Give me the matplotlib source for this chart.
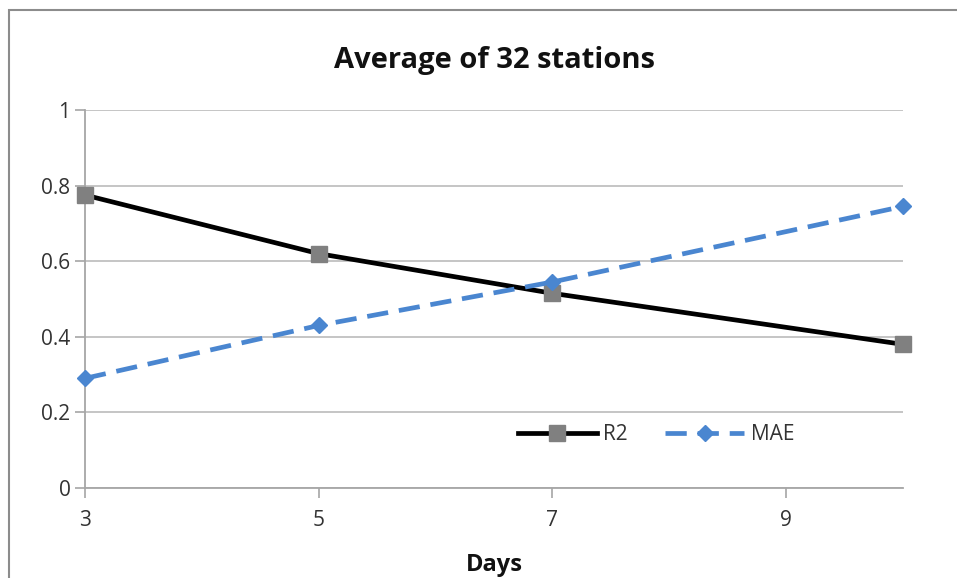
import matplotlib.pyplot as plt
from matplotlib.patches import Rectangle

plt.rcParams['font.family'] = ['Open Sans', 'DejaVu Sans']

days = [3, 5, 7, 10]
r2 = [0.775, 0.62, 0.515, 0.38]
mae = [0.29, 0.43, 0.545, 0.745]
xticks = [3, 5, 7, 9]
yticks = [0, 0.2, 0.4, 0.6, 0.8, 1]
ytick_labels = ['0', '0.2', '0.4', '0.6', '0.8', '1']

fig = plt.figure(figsize=(9.57, 5.78), dpi=100)
ax = fig.add_axes([0.0888, 0.1557, 0.8548, 0.654])

# outer chart border like the spreadsheet frame
fig.patches.append(Rectangle((0.009, -0.02), 0.995, 1.003, transform=fig.transFigure,
                             fill=False, edgecolor='#8c8c8c', linewidth=1.5))

ax.plot(days, r2, color='black', linewidth=3.4, marker='s', markersize=11,
        markerfacecolor='#808080', markeredgecolor='#808080', label='R2', zorder=3, clip_on=False)
ax.plot(days, mae, color='#4a86d0', linewidth=3.4, linestyle=(0, (4.5, 2.3)), marker='D',
        markersize=8, markerfacecolor='#4a86d0', markeredgecolor='#4a86d0', label='MAE',
        zorder=3, clip_on=False)

ax.set_xlim(3, 10)
ax.set_ylim(0, 1)
ax.set_xticks(xticks)
ax.set_yticks(yticks)
ax.set_yticklabels(ytick_labels)
ax.grid(axis='y', color='#c0c0c0', linewidth=1.3)
ax.set_axisbelow(True)

for s in ['top', 'right']:
    ax.spines[s].set_visible(False)
ax.spines['left'].set_color('#a6a6a6')
ax.spines['bottom'].set_color('#a6a6a6')
ax.spines['left'].set_linewidth(1.3)
ax.spines['bottom'].set_linewidth(1.3)
ax.tick_params(axis='both', colors='#a6a6a6', labelcolor='#333333', labelsize=15, length=7, width=1.2)
ax.tick_params(axis='x', pad=9)

ax.set_title('Average of 32 stations', fontsize=21, fontweight='bold', pad=30, color='#111111')
ax.set_xlabel('Days', fontsize=17, fontweight='bold', labelpad=16, color='#111111')

ax.legend(loc='center', bbox_to_anchor=(0.698, 0.142), ncol=2, frameon=False,
          fontsize=15, handlelength=3.8, columnspacing=1.8, handletextpad=0.3,
          labelcolor='#333333')

plt.savefig('out.png', dpi=100)
